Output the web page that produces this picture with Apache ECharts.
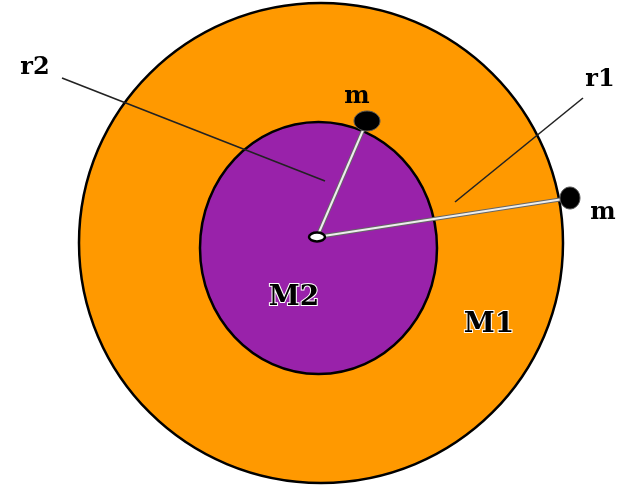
<!DOCTYPE html>
<html>
<head>
<meta charset="utf-8">
<script src="https://cdn.jsdelivr.net/npm/echarts@6/dist/echarts.min.js"></script>
<style>html,body{margin:0;padding:0;background:#fff}#c{width:625px;height:488px}</style>
</head>
<body>
<div id="c"></div>
<script>
// Bodies (M1 outer, M2 inner): centre and radii in picture units
const bodyNames = ['M1', 'M2'];
const bodyCenters = [[321, 243], [318.5, 248]];
const bodyRadii = [[242, 240], [118.5, 126]];
// Common centre (pivot)
const pivot = [317, 237];
const pivotRadii = [8, 4.5];
// Orbiting masses m
const massPositions = [[367, 121], [570, 198]];
const massRadii = [[13, 10], [10, 11]];
// Leader lines for r2 and r1
const leaderNames = ['r2', 'r1'];
const leaderLines = [[[62, 78], [325, 181]], [[583, 98], [455, 202]]];
// Text labels
const labelTexts = ['r2', 'r1', 'm', 'm', 'M2', 'M1'];
const labelPositions = [[35, 68], [600, 80], [357, 97], [603, 213], [294, 298], [489, 325]];

const bodyColors = ['#FF9900', '#9922AA'];

const chart = echarts.init(document.getElementById('c'), null, {renderer: 'canvas'});

function ellipseItem(fill, stroke, lw) {
  return function (params, api) {
    const c = api.coord([api.value(0), api.value(1)]);
    const s = api.size([api.value(2), api.value(3)]);
    return {
      type: 'ellipse',
      shape: {cx: c[0], cy: c[1], rx: s[0], ry: s[1]},
      style: {fill: typeof fill === 'function' ? fill(params.dataIndex) : fill, stroke: stroke, lineWidth: lw}
    };
  };
}

const option = {
  animation: false,
  grid: {left: 0, right: 0, top: 0, bottom: 0},
  xAxis: {type: 'value', min: 0, max: 625, show: false},
  yAxis: {type: 'value', min: 0, max: 488, inverse: true, show: false},
  series: [
    {
      type: 'custom', name: 'bodies', z: 1,
      data: bodyCenters.map((c, i) => [c[0], c[1], bodyRadii[i][0], bodyRadii[i][1], bodyNames[i]]),
      renderItem: ellipseItem(i => bodyColors[i], '#000', 2.5)
    },
    {
      type: 'custom', name: 'leaders', z: 2,
      data: leaderLines.map((l, i) => [l[0][0], l[0][1], l[1][0], l[1][1], leaderNames[i]]),
      renderItem: function (params, api) {
        const a = api.coord([api.value(0), api.value(1)]);
        const b = api.coord([api.value(2), api.value(3)]);
        return {type: 'line', shape: {x1: a[0], y1: a[1], x2: b[0], y2: b[1]},
          style: {stroke: '#222', lineWidth: 1.6}};
      }
    },
    {
      type: 'custom', name: 'radii', z: 3,
      data: massPositions.map(m => [pivot[0], pivot[1], m[0], m[1]]),
      renderItem: function (params, api) {
        const a = api.coord([api.value(0), api.value(1)]);
        const b = api.coord([api.value(2), api.value(3)]);
        const shape = {x1: a[0], y1: a[1], x2: b[0], y2: b[1]};
        return {type: 'group', children: [
          {type: 'line', shape: shape, style: {stroke: '#666', lineWidth: 4}},
          {type: 'line', shape: shape, style: {stroke: '#eee', lineWidth: 2}}
        ]};
      }
    },
    {
      type: 'custom', name: 'pivot', z: 4,
      data: [[pivot[0], pivot[1], pivotRadii[0], pivotRadii[1]]],
      renderItem: ellipseItem('#fff', '#000', 2.5)
    },
    {
      type: 'custom', name: 'masses', z: 5,
      data: massPositions.map((m, i) => [m[0], m[1], massRadii[i][0], massRadii[i][1]]),
      renderItem: ellipseItem('#000', '#555', 1)
    },
    {
      type: 'custom', name: 'labels', z: 6,
      data: labelPositions.map((p, i) => [p[0], p[1], labelTexts[i]]),
      renderItem: function (params, api) {
        const c = api.coord([api.value(0), api.value(1)]);
        const t = labelTexts[params.dataIndex];
        const big = t.charAt(0) === 'M';
        return {type: 'text', x: c[0], y: c[1], style: {
          text: t, fill: '#000', align: 'center', verticalAlign: 'middle',
          font: 'bold ' + (big ? 28 : 24) + 'px "DejaVu Serif", serif',
          stroke: big ? '#fff' : null, lineWidth: big ? 2 : 0
        }};
      }
    }
  ]
};
chart.setOption(option);
</script>
</body>
</html>
